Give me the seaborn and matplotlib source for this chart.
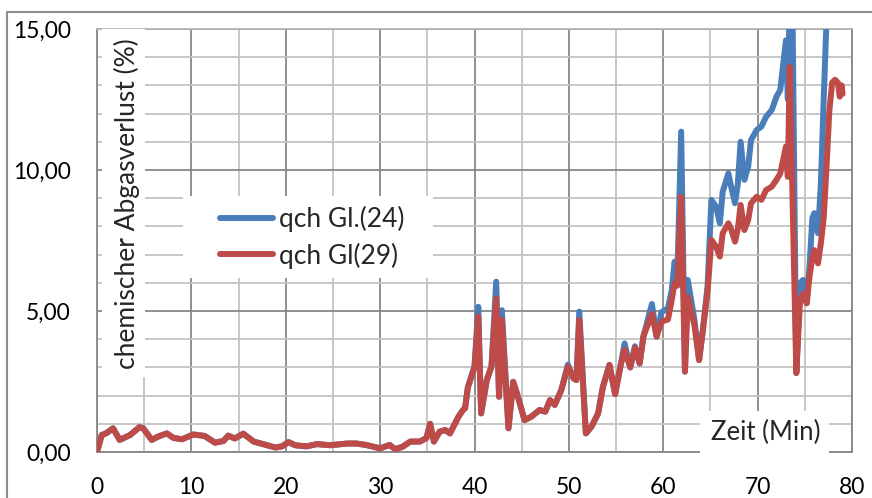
import matplotlib
matplotlib.use("Agg")
import matplotlib.pyplot as plt
from matplotlib.patches import Rectangle
from matplotlib.ticker import MultipleLocator, FixedLocator
import seaborn as sns
import pandas as pd

# ---- data ----
zeit = [0.0, 0.5, 1.0, 1.7, 2.4, 3.5, 4.5, 4.9, 5.8, 6.5, 7.4, 8.1, 9.0, 10.2, 11.4,
        12.5, 13.4, 13.9, 14.6, 15.5, 16.6, 17.6, 18.9, 19.6, 20.3, 21.0, 22.2, 23.3,
        24.7, 26.5, 27.5, 28.5, 30.0, 31.0, 31.6, 32.4, 33.2, 34.2, 34.9, 35.3, 35.7,
        36.3, 36.9, 37.4, 38.3, 38.8, 39.0, 39.3, 40.0, 40.4, 40.7, 41.3, 41.8, 42.3,
        42.6, 42.9, 43.6, 44.1, 44.6, 45.3, 46.0, 46.9, 47.5, 48.0, 48.5, 49.2, 49.9,
        50.5, 50.8, 51.1, 51.8, 52.4, 53.1, 53.6, 54.3, 54.9, 55.5, 55.9, 56.5, 57.0,
        57.5, 57.9, 58.8, 59.3, 59.8, 60.5, 60.9, 61.2, 61.5, 61.9, 62.3, 62.6, 63.3,
        63.8, 64.2, 64.7, 65.1, 65.6, 66.0, 66.3, 66.9, 67.2, 67.6, 67.9, 68.2, 68.6,
        69.0, 69.3, 69.9, 70.4, 70.9, 71.5, 72.0, 72.4, 73.0, 73.2, 73.4, 73.7, 74.1,
        74.5, 74.8, 75.2, 75.5, 75.8, 76.0, 76.4, 76.7, 77.0, 77.3, 77.6, 77.9, 78.2,
        78.5, 78.7, 78.9, 79.0]

qch_29 = [0.0, 0.6, 0.67, 0.84, 0.43, 0.6, 0.88, 0.84, 0.43, 0.55, 0.66, 0.5, 0.45, 0.62, 0.57,
          0.33, 0.39, 0.58, 0.48, 0.65, 0.37, 0.28, 0.16, 0.2, 0.35, 0.24, 0.2, 0.28,
          0.24, 0.3, 0.3, 0.25, 0.13, 0.25, 0.1, 0.19, 0.37, 0.37, 0.49, 1.0, 0.37,
          0.72, 0.78, 0.66, 1.25, 1.5, 1.55, 2.3, 3.0, 4.8, 1.37, 2.55, 3.03, 5.45,
          1.96, 4.68, 0.84, 2.49, 1.96, 1.13, 1.25, 1.49, 1.43, 1.84, 1.67, 2.2, 3.03,
          2.61, 2.55, 4.68, 0.66, 0.9, 1.37, 2.3, 3.09, 2.05, 3.1, 3.62, 3.0, 3.7,
          3.14, 4.1, 4.9, 4.09, 4.62, 4.7, 5.39, 5.98, 5.9, 9.05, 2.85, 5.5, 4.5,
          3.26, 4.33, 5.7, 7.52, 7.28, 6.93, 7.76, 8.11, 7.9, 7.46, 7.9, 8.76, 7.87,
          8.23, 8.82, 9.05, 8.94, 9.29, 9.41, 9.65, 9.88, 10.83, 9.76, 13.66, 9.05, 2.8,
          5.39, 5.6, 5.27, 6.22, 6.9, 7.16, 6.69, 7.4, 8.3, 10.1, 12.1, 13.1, 13.2,
          13.1, 12.6, 13.0, 12.7]

qch_24 = [0.0, 0.6, 0.67, 0.84, 0.43, 0.6, 0.88, 0.84, 0.43, 0.55, 0.66, 0.5, 0.45, 0.62, 0.57,
          0.33, 0.39, 0.58, 0.48, 0.65, 0.37, 0.28, 0.16, 0.2, 0.35, 0.24, 0.2, 0.28,
          0.24, 0.3, 0.3, 0.25, 0.13, 0.25, 0.1, 0.19, 0.37, 0.37, 0.49, 1.0, 0.37,
          0.72, 0.78, 0.66, 1.25, 1.5, 1.55, 2.3, 3.05, 5.15, 1.37, 2.55, 3.03, 6.04,
          1.96, 5.03, 0.84, 2.49, 1.96, 1.13, 1.25, 1.49, 1.43, 1.84, 1.67, 2.2, 3.1,
          2.61, 2.55, 4.98, 0.66, 0.9, 1.37, 2.3, 3.09, 2.05, 3.1, 3.85, 3.0, 3.75,
          3.14, 4.1, 5.25, 4.09, 4.95, 5.1, 5.74, 6.75, 6.3, 11.36, 2.85, 6.1, 4.7,
          3.26, 4.33, 5.9, 8.94, 8.7, 8.11, 9.23, 9.88, 9.4, 8.82, 9.5, 11.0, 9.65,
          10.12, 11.06, 11.42, 11.54, 11.89, 12.13, 12.6, 12.84, 14.6, 12.5, 16.0, 15.5, 2.8,
          5.98, 6.1, 5.3, 6.6, 8.3, 8.47, 7.76, 9.5, 12.5, 15.3, 17.0, 18.0, 18.5,
          18.5, 18.6, 19.0, 19.0]

series_names = ["qch Gl.(24)", "qch Gl(29)"]
series_colors = ["#4A7EBB", "#BE4B48"]
x_ticks = [0, 10, 20, 30, 40, 50, 60, 70, 80]
y_ticks = [0, 5, 10, 15]
y_tick_labels = ["0,00", "5,00", "10,00", "15,00"]

df = pd.DataFrame({
    "Zeit": zeit * 2,
    "qch": qch_24 + qch_29,
    "Serie": [series_names[0]] * len(zeit) + [series_names[1]] * len(zeit),
})

sns.set_theme(style="white")
plt.rcParams["font.family"] = ["Lato", "DejaVu Sans"]

fig = plt.figure(figsize=(8.72, 4.98), dpi=100)
W, H = 872, 498
ax = fig.add_axes([97 / W, 46 / H, 755 / W, 423 / H])

sns.lineplot(data=df, x="Zeit", y="qch", hue="Serie", hue_order=series_names,
             palette=series_colors, sort=False, estimator=None, linewidth=4.3,
             legend=False, ax=ax, zorder=4)

ax.set_xlim(0, 80)
ax.set_ylim(0, 15)
ax.xaxis.set_major_locator(FixedLocator(x_ticks))
ax.xaxis.set_minor_locator(MultipleLocator(5))
ax.yaxis.set_major_locator(FixedLocator(y_ticks))
ax.yaxis.set_minor_locator(MultipleLocator(1))
ax.set_yticklabels(y_tick_labels)
ax.set_xticklabels([str(v) for v in x_ticks])
ax.tick_params(axis="both", which="both", length=0, labelsize=16.5, colors="black")
ax.tick_params(axis="y", pad=19)
ax.tick_params(axis="x", pad=18)

ax.set_axisbelow(True)
ax.grid(which="major", color="#878787", linewidth=1.3)
ax.grid(which="minor", color="#C3C3C3", linewidth=1.3)
for side in ["left", "bottom", "right"]:
    ax.spines[side].set_color("#878787")
    ax.spines[side].set_linewidth(1.3)
ax.spines["top"].set_color("#B5B5B5")
ax.spines["top"].set_linewidth(1.3)
ax.set_xlabel("")
ax.set_ylabel("")

# y label in a white box inside the plot area
ax.add_patch(Rectangle((0.0066, 0.177), 0.057, 0.823, transform=ax.transAxes,
                       facecolor="white", edgecolor="none", zorder=3))
ax.text(0.0397, 0.586, "chemischer Abgasverlust (%)", rotation=90,
        transform=ax.transAxes, ha="center", va="center", fontsize=19, zorder=5)

# x label in a white box
ax.add_patch(Rectangle((0.7987, -0.01), 0.171, 0.107, transform=ax.transAxes,
                       facecolor="white", edgecolor="none", zorder=3, clip_on=False))
ax.text(0.886, 0.045, "Zeit (Min)", transform=ax.transAxes, ha="center",
        va="center", fontsize=18.5, zorder=5)

# legend in a white box
ax.add_patch(Rectangle((0.1139, 0.411), 0.331, 0.194, transform=ax.transAxes,
                       facecolor="white", edgecolor="none", zorder=3))
handles = ax.get_lines()[:2]
leg = ax.legend(handles, series_names, loc="center left",
                bbox_to_anchor=(0.163, 0.508), frameon=False, fontsize=19,
                handlelength=2.0, handletextpad=0.22, labelspacing=0.4,
                borderaxespad=0, borderpad=0)
leg.set_zorder(6)

# outer chart frame
fig.patches.append(Rectangle((7 / W, -0.1), 1.2, (H - 12) / H + 0.1,
                             transform=fig.transFigure, fill=False,
                             edgecolor="#8C8C8C", linewidth=1.5))

fig.savefig("out.png", dpi=100)
